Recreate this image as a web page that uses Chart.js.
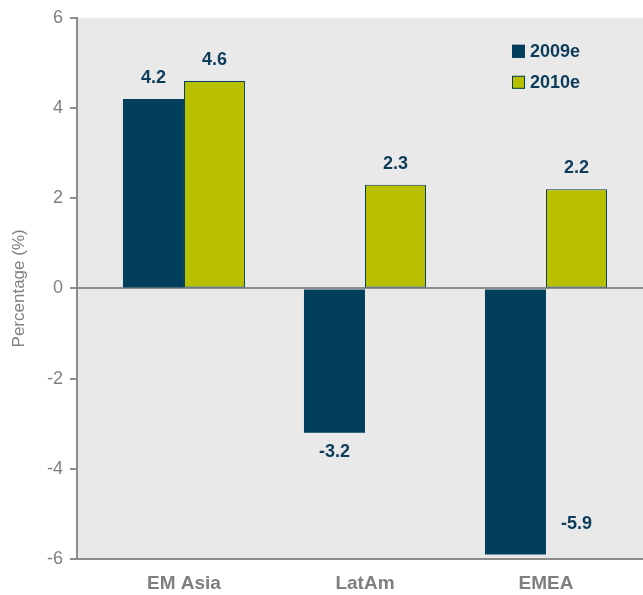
<!DOCTYPE html>
<html><head><meta charset="utf-8">
<script src="https://cdn.jsdelivr.net/npm/chart.js@4/dist/chart.umd.min.js"></script>
<style>html,body{margin:0;padding:0;background:#fff}#wrap{width:643px;height:595px}</style>
</head><body><div id="wrap"><canvas id="c"></canvas></div>
<script>
const categories = ["EM Asia", "LatAm", "EMEA"];
const series2009 = [4.2, -3.2, -5.9];
const series2010 = [4.6, 2.3, 2.2];
const seriesNames = ["2009e", "2010e"];
const yTicks = [-6, -4, -2, 0, 2, 4, 6];

const NAVY = '#023f5d';
const OLIVE = '#b9c000';
const GRAY = '#8c8c8c';
const TXT = '#7f7f7f';
const FONT = '"Liberation Sans", Arial, sans-serif';

const bgPlugin = {
  id: 'bg',
  beforeDraw(chart) {
    const {ctx, chartArea: a} = chart;
    ctx.save(); ctx.fillStyle = '#e9e9e9';
    ctx.fillRect(a.left, a.top, a.right - a.left, a.bottom - a.top);
    ctx.restore();
  }
};

const labelPlugin = {
  id: 'labels',
  afterDatasetsDraw(chart) {
    const {ctx, chartArea: a} = chart;
    ctx.save();
    ctx.font = 'bold 18px ' + FONT;
    ctx.fillStyle = '#0d3c5a';
    ctx.textAlign = 'center'; ctx.textBaseline = 'middle';
    chart.data.datasets.forEach((ds, di) => {
      chart.getDatasetMeta(di).data.forEach((bar, i) => {
        const v = ds.data[i].y;
        let x = bar.x, y;
        if (v >= 0) y = bar.y - 21;
        else {
          y = bar.y + 19;
          if (y + 8 > a.bottom) { x = bar.x + bar.width; y = bar.y - 30; }
        }
        ctx.fillText(v.toFixed(1), x, y);
      });
    });
    // legend
    const lx = a.right - 131, ly = a.top + 33;
    chart.data.datasets.forEach((ds, di) => {
      const y = ly + di * 31;
      ctx.fillStyle = ds.backgroundColor;
      ctx.fillRect(lx, y - 6, 13, 13);
      ctx.strokeStyle = NAVY; ctx.lineWidth = 1;
      ctx.strokeRect(lx + 0.5, y - 5.5, 12, 12);
      ctx.fillStyle = '#0d3c5a'; ctx.textAlign = 'left';
      ctx.fillText(ds.label, lx + 18, y + 1);
    });
    ctx.restore();
  }
};

new Chart(document.getElementById('c'), {
  type: 'bar',
  data: {
    datasets: [
      { label: seriesNames[0], data: categories.map((c, i) => ({x: i, y: series2009[i]})),
        backgroundColor: NAVY, borderColor: NAVY, borderWidth: 0 },
      { label: seriesNames[1], data: categories.map((c, i) => ({x: i, y: series2010[i]})),
        backgroundColor: OLIVE, borderColor: NAVY, borderWidth: 1, borderSkipped: false }
    ]
  },
  options: {
    responsive: true, maintainAspectRatio: false, animation: false,
    layout: { padding: { top: 16, right: 0, left: 0, bottom: 0 } },
    categoryPercentage: 0.674, barPercentage: 1,
    plugins: { legend: { display: false }, tooltip: { enabled: false } },
    scales: {
      x: {
        type: 'linear', min: -0.591, max: 2.536, offset: false,
        afterBuildTicks: s => { s.ticks = categories.map((c, i) => ({value: i})); },
        afterFit: s => { s.height = 36; },
        grid: { display: false, drawTicks: false },
        border: { display: true, color: GRAY, width: 2 },
        ticks: { autoSkip: false, maxRotation: 0, padding: 13, color: TXT,
          font: { family: FONT, size: 19, weight: 'bold' },
          callback: v => categories[v] }
      },
      y: {
        min: -6, max: 6, z: 1,
        afterBuildTicks: s => { s.ticks = yTicks.map(v => ({value: v})); },
        afterFit: s => { s.width = 77; },
        grid: { drawOnChartArea: true, drawTicks: true, tickLength: 7, lineWidth: 2,
          color: ctx => (ctx.tick && ctx.tick.value === 0) ? GRAY : 'rgba(0,0,0,0)',
          tickColor: GRAY },
        border: { display: true, color: GRAY, width: 2 },
        ticks: { padding: 7, color: TXT, font: { family: FONT, size: 18 } },
        title: { display: true, text: 'Percentage (%)', color: TXT, padding: {top: 9, bottom: 0},
          font: { family: FONT, size: 17 } }
      }
    }
  },
  plugins: [bgPlugin, labelPlugin]
});
</script></body></html>
